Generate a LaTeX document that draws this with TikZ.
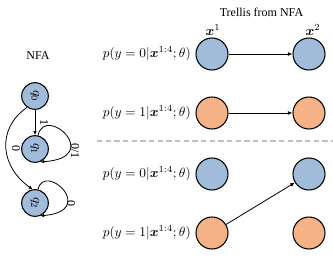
\documentclass[tikz,border=0pt]{standalone}
\usepackage{amsmath,bm}
\usepackage{graphicx}
\usepackage{fontspec}
\setmainfont{Liberation Serif}
\usetikzlibrary{arrows.meta}
\definecolor{nblue}{RGB}{160,188,218}
\definecolor{norange}{RGB}{245,178,134}
\newcommand{\rt}[1]{\rotatebox{-90}{#1}}
\begin{document}
\begin{tikzpicture}[x=0.75pt,y=-0.75pt,
  tnode/.style={circle,draw=black,line width=0.8pt,minimum size=24pt,inner sep=0pt},
  qnode/.style={circle,draw=black,line width=0.8pt,minimum size=20pt,inner sep=0pt,fill=nblue},
  tarrow/.style={-{Latex[length=3.5pt,width=3pt]},line width=0.6pt},
  narrow/.style={-{Latex[length=3pt,width=2.6pt]},line width=0.6pt},
  rlab/.style={font=\fontsize{9}{10}\selectfont,inner sep=1pt},
  plab/.style={anchor=east,inner sep=0pt}]
\useasboundingbox (0,0) rectangle (333,258);
% titles
\node (ttl) at (261.5,12.5) {\fontsize{9}{11}\selectfont Trellis from NFA};
\node (nfa) at (38,56) {\fontsize{9}{11}\selectfont NFA};
\node (x1) at (213,30) {$\bm{x}^1$};
\node (x2) at (313,30) {$\bm{x}^2$};
% trellis nodes
\node[tnode,fill=nblue] (a1) at (212,54) {};
\node[tnode,fill=nblue] (a2) at (309,54) {};
\node[tnode,fill=norange] (b1) at (212,113) {};
\node[tnode,fill=norange] (b2) at (309,113) {};
\node[tnode,fill=nblue] (c1) at (212,174) {};
\node[tnode,fill=nblue] (c2) at (309,174) {};
\node[tnode,fill=norange] (d1) at (212,233) {};
\node[tnode,fill=norange] (d2) at (309,233) {};
% row labels
\node[plab] (la) at (191,54) {$p(y=0|\bm{x}^{1:4};\theta)$};
\node[plab] (lb) at (191,113) {$p(y=1|\bm{x}^{1:4};\theta)$};
\node[plab] (lc) at (191,174) {$p(y=0|\bm{x}^{1:4};\theta)$};
\node[plab] (ld) at (191,233) {$p(y=1|\bm{x}^{1:4};\theta)$};
% trellis arrows
\draw[tarrow] (a1) -- (a2);
\draw[tarrow] (b1) -- (b2);
\draw[tarrow] (d1) -- (c2);
% dashed separator
\coordinate (s1) at (97,141);
\coordinate (s2) at (333,141);
\draw[black!25,line width=0.8pt,dash pattern=on 4pt off 2.5pt] (s1) -- (s2);
% NFA
\node[qnode] (q0) at (35,96) {\rt{$q_0$}};
\node[qnode] (q1) at (35,149) {\rt{$q_1$}};
\node[qnode] (q2) at (35,203) {\rt{$q_2$}};
\draw[narrow] (q0) -- (q1);
\node[rlab] (l1) at (44,122) {\rt{1}};
\draw[narrow] (q1.78) .. controls +(8,-32) and +(64,-4) .. (q1.-68);
\node[rlab] (l01) at (75,151) {\rt{0/1}};
\draw[narrow] (q2.78) .. controls +(7,-28) and +(58,-5) .. (q2.-68);
\node[rlab] (l0b) at (71,203) {\rt{0}};
\draw[narrow] (q0.235) to[out=215,in=145,looseness=1.2] (q2.100);
\node[rlab] (l0a) at (16,148) {\rt{0}};
\end{tikzpicture}
\end{document}
